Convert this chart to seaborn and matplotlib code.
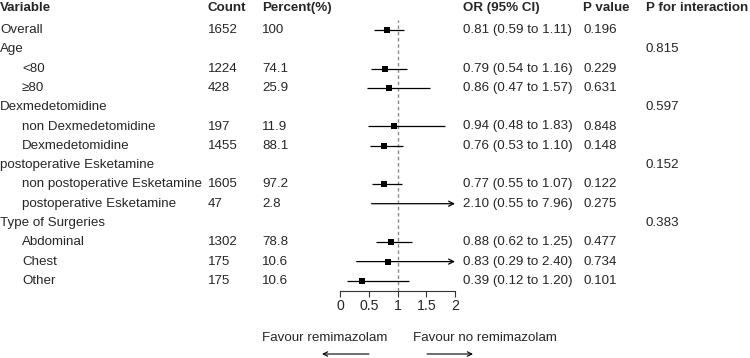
import numpy as np
import pandas as pd
import matplotlib
matplotlib.use("Agg")
import matplotlib.pyplot as plt
import seaborn as sns

# rows of the forest table, top to bottom
labels = [
    "Overall", "Age", "<80", "≥80",
    "Dexmedetomidine", "non Dexmedetomidine", "Dexmedetomidine",
    "postoperative Esketamine", "non postoperative Esketamine", "postoperative Esketamine",
    "Type of Surgeries", "Abdominal", "Chest", "Other",
]
is_subgroup = [False, False, True, True, False, True, True, False, True, True, False, True, True, True]
counts = ["1652", "", "1224", "428", "", "197", "1455", "", "1605", "47", "", "1302", "175", "175"]
percents = ["100", "", "74.1", "25.9", "", "11.9", "88.1", "", "97.2", "2.8", "", "78.8", "10.6", "10.6"]
or_est = [0.81, np.nan, 0.79, 0.86, np.nan, 0.94, 0.76, np.nan, 0.77, 2.10, np.nan, 0.88, 0.83, 0.39]
ci_low = [0.59, np.nan, 0.54, 0.47, np.nan, 0.48, 0.53, np.nan, 0.55, 0.55, np.nan, 0.62, 0.29, 0.12]
ci_high = [1.11, np.nan, 1.16, 1.57, np.nan, 1.83, 1.10, np.nan, 1.07, 7.96, np.nan, 1.25, 2.40, 1.20]
p_value = ["0.196", "", "0.229", "0.631", "", "0.848", "0.148", "", "0.122", "0.275", "", "0.477", "0.734", "0.101"]
p_interaction = ["", "0.815", "", "", "0.597", "", "", "0.152", "", "", "0.383", "", "", ""]

headers = ["Variable", "Count", "Percent(%)", "OR (95% CI)", "P value", "P for interaction"]
x_ticks = [0, 0.5, 1, 1.5, 2]
x_tick_labels = ["0", "0.5", "1", "1.5", "2"]

df = pd.DataFrame({
    "label": labels, "sub": is_subgroup, "count": counts, "pct": percents,
    "or": or_est, "lo": ci_low, "hi": ci_high, "p": p_value, "pint": p_interaction,
})
df["row"] = np.arange(len(df))

sns.set_style("white")
plt.rcParams["font.family"] = ["Liberation Sans", "DejaVu Sans"]
fs = 9.6

W, H = 750, 358
fig = plt.figure(figsize=(W / 100, H / 100), dpi=100)

# text layer in pixel coordinates
tx = fig.add_axes([0, 0, 1, 1])
tx.set_xlim(0, W)
tx.set_ylim(H, 0)
tx.axis("off")

row0, step = 30, 19.3
col_x = [0, 208, 262, 463, 583, 646]
for x, h in zip(col_x, headers):
    tx.text(x, 8, h, fontsize=fs, fontweight="bold", va="center", ha="left")

for i, r in df.iterrows():
    y = row0 + step * i
    tx.text(22 if r["sub"] else 0, y, r["label"], fontsize=fs, va="center")
    tx.text(col_x[1], y, r["count"], fontsize=fs, va="center")
    tx.text(col_x[2], y, r["pct"], fontsize=fs, va="center")
    if not np.isnan(r["or"]):
        tx.text(col_x[3], y, f"{r['or']:.2f} ({r['lo']:.2f} to {r['hi']:.2f})", fontsize=fs, va="center")
    tx.text(col_x[4], y, r["p"], fontsize=fs, va="center")
    tx.text(col_x[5], y, r["pint"], fontsize=fs, va="center")

# forest panel: x=0 at 340px, x=2 at 455px; axis line at 291px
top_px, bot_px = 20, 291
ax = fig.add_axes([340 / W, (H - bot_px) / H, 115 / W, (bot_px - top_px) / H])
ax.set_xlim(0, 2)
ax.set_ylim((bot_px - row0) / step, (top_px - row0) / step)
ax.patch.set_alpha(0)

ax.axvline(1, color="#8a8a8a", lw=1, dashes=(2.5, 2), zorder=1)

est = df.dropna(subset=["or"])
inside = est[est["hi"] <= 2]
over = est[est["hi"] > 2]
ax.hlines(inside["row"], inside["lo"], inside["hi"], color="black", lw=0.9, zorder=2)
for _, r in over.iterrows():
    ax.annotate("", xy=(2, r["row"]), xytext=(r["lo"], r["row"]),
                arrowprops=dict(arrowstyle="->", color="black", lw=0.9,
                                shrinkA=0, shrinkB=0, mutation_scale=9),
                annotation_clip=False, zorder=2)

sns.scatterplot(data=est[est["or"] <= 2], x="or", y="row", marker="s", color="black",
                s=16, linewidth=0, ax=ax, legend=False, zorder=3)

for s in ["top", "right", "left"]:
    ax.spines[s].set_visible(False)
ax.spines["bottom"].set_color("#333333")
ax.spines["bottom"].set_linewidth(0.8)
ax.set_yticks([])
ax.set_xticks(x_ticks)
ax.set_xticklabels(x_tick_labels, fontsize=fs + 0.6)
ax.tick_params(axis="x", direction="out", length=4, width=0.8, color="#333333", pad=1.5,
               bottom=True)
ax.set_xlabel("")
ax.set_ylabel("")

# favour labels with arrows
tx.text(325, 338, "Favour remimazolam", fontsize=fs, ha="center", va="center")
tx.text(485, 338, "Favour no remimazolam", fontsize=fs, ha="center", va="center")
tx.annotate("", xy=(322, 354), xytext=(369, 354),
            arrowprops=dict(arrowstyle="->", color="black", lw=0.8, shrinkA=0, shrinkB=0, mutation_scale=8))
tx.annotate("", xy=(473, 354), xytext=(427, 354),
            arrowprops=dict(arrowstyle="->", color="black", lw=0.8, shrinkA=0, shrinkB=0, mutation_scale=8))

fig.savefig("out.png", dpi=100, facecolor="white")
